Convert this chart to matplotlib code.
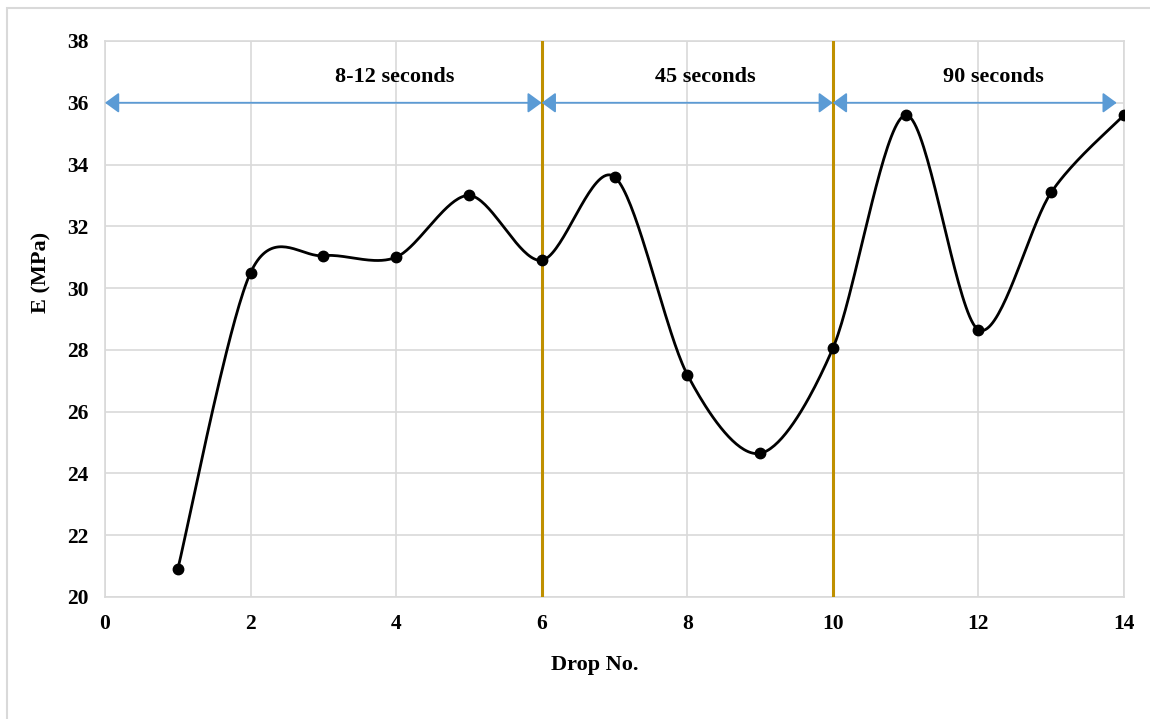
import numpy as np
import matplotlib.pyplot as plt
from matplotlib.patches import Rectangle

# data
drop_no = [1, 2, 3, 4, 5, 6, 7, 8, 9, 10, 11, 12, 13, 14]
e_mpa = [20.9, 30.5, 31.05, 31.0, 33.0, 30.9, 33.6, 27.2, 24.65, 28.05, 35.6, 28.65, 33.1, 35.6]
phase_bounds = [6, 10]
arrow_spans = [(0, 6), (6, 10), (10, 13.9)]
arrow_y = 36
phase_labels = ["8-12 seconds", "45 seconds", "90 seconds"]
label_x = [3.98, 8.25, 12.2]
label_y = 36.85


def smooth_line(x, y, n=40, k=6.6):
    # Catmull-Rom style Bezier, close to Excel's "smoothed line"
    x = np.asarray(x, float)
    y = np.asarray(y, float)
    px = np.concatenate([[x[0]], x, [x[-1]]])
    py = np.concatenate([[y[0]], y, [y[-1]]])
    xs, ys = [], []
    t = np.linspace(0, 1, n)
    for i in range(1, len(px) - 2):
        p0 = np.array([px[i], py[i]])
        p3 = np.array([px[i + 1], py[i + 1]])
        c1 = p0 + (np.array([px[i + 1], py[i + 1]]) - np.array([px[i - 1], py[i - 1]])) / k
        c2 = p3 - (np.array([px[i + 2], py[i + 2]]) - np.array([px[i], py[i]])) / k
        b = ((1 - t) ** 3)[:, None] * p0 + (3 * (1 - t) ** 2 * t)[:, None] * c1 \
            + (3 * (1 - t) * t ** 2)[:, None] * c2 + (t ** 3)[:, None] * p3
        xs.extend(b[:, 0])
        ys.extend(b[:, 1])
    return xs, ys


plt.rcParams['font.family'] = ['Liberation Serif', 'DejaVu Serif']
plt.rcParams['font.weight'] = 'bold'

fig = plt.figure(figsize=(11.5, 7.19), dpi=100)
fig.patches.append(Rectangle((0.006, -0.01), 1.2, 0.999, transform=fig.transFigure,
                             fill=False, edgecolor='#d9d9d9', linewidth=1.5))
ax = fig.add_axes([0.0913, 0.1697, 0.8861, 0.7733])

sx, sy = smooth_line(drop_no, e_mpa)
ax.plot(sx, sy, color='black', linewidth=2, zorder=4)
ax.plot(drop_no, e_mpa, 'o', color='black', markersize=7.5, zorder=5)

for xb in phase_bounds:
    ax.axvline(xb, color='#bf9000', linewidth=2.2, zorder=3)

for (x0, x1) in arrow_spans:
    ax.annotate('', xy=(x1, arrow_y), xytext=(x0, arrow_y),
                arrowprops=dict(arrowstyle='<|-|>,head_length=0.85,head_width=0.62',
                                color='#5b9bd5', linewidth=1.3,
                                shrinkA=0, shrinkB=0), zorder=6)

for lx, lab in zip(label_x, phase_labels):
    ax.text(lx, label_y, lab, ha='center', va='center', fontsize=16, fontweight='bold')

ax.set_xlim(0, 14)
ax.set_ylim(20, 38)
ax.set_xticks(range(0, 15, 2))
ax.set_yticks(range(20, 39, 2))
ax.tick_params(length=0, labelsize=15.5, pad=12)
for lab in ax.get_xticklabels() + ax.get_yticklabels():
    lab.set_fontweight('bold')
ax.grid(True, color='#d9d9d9', linewidth=1.2)
ax.set_axisbelow(True)
for s in ax.spines.values():
    s.set_color('#d9d9d9')
    s.set_linewidth(1.2)

ax.set_xlabel('Drop No.', fontsize=16, fontweight='bold', va='center')
ax.set_ylabel('E (MPa)', fontsize=16, fontweight='bold', va='center')
ax.xaxis.set_label_coords(0.481, -0.122)
ax.yaxis.set_label_coords(-0.0628, 0.5845)

plt.savefig('out.png', dpi=100)
